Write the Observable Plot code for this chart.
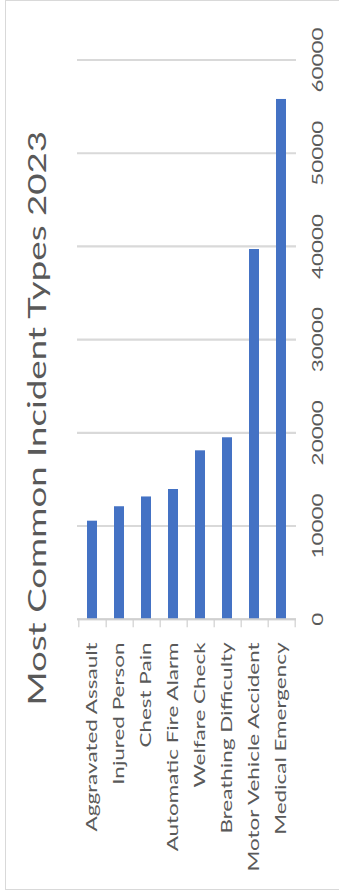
<!DOCTYPE html>
<html>
<head>
<meta charset="utf-8">
<script src="https://cdn.jsdelivr.net/npm/d3@7"></script>
<script src="https://cdn.jsdelivr.net/npm/@observablehq/plot@0.6"></script>
<style>
  html, body { margin: 0; padding: 0; background: #fff; }
  #wrap { position: relative; width: 339px; height: 896px; overflow: hidden; background: #fff; }
  #border { position: absolute; left: 5px; top: 0px; width: 340px; height: 890px; border: 1.5px solid #d9d9d9; box-sizing: border-box; }
  #chart { position: absolute; left: 0; top: 0; width: 618px; height: 339px; transform-origin: 0 0; }
  #chart svg { max-width: none !important; display: block; }
</style>
</head>
<body>
<div id="wrap"><div id="border"></div><div id="chart"></div></div>
<script>
const titleText = "Most Common Incident Types 2023";
const categories = [
  "Aggravated Assault",
  "Injured Person",
  "Chest Pain",
  "Automatic Fire Alarm",
  "Welfare Check",
  "Breathing Difficulty",
  "Motor Vehicle Accident",
  "Medical Emergency"
];
const counts = [10650, 12200, 13250, 14050, 18200, 19600, 39800, 55900];
const valueTicks = [0, 10000, 20000, 30000, 40000, 50000, 60000];

const data = categories.map((c, i) => ({type: c, count: counts[i]}));

// The chart is drawn as a horizontal bar chart, then turned to read bottom-to-top
const W = 618, H = 339, S = 896 / W;
const mTop = 77, mBottom = 43, mLeft = 190.4, mRight = 41.9;
const step = (H - mTop - mBottom) / categories.length;
const textColor = "#595959";
const axisColor = "#d0d0d0";

const chart = Plot.plot({
  width: W,
  height: H,
  marginLeft: mLeft,
  marginRight: mRight,
  marginTop: mTop,
  marginBottom: mBottom,
  style: {fontFamily: "Lato", color: textColor, background: "transparent", overflow: "visible", maxWidth: "none"},
  x: {domain: [0, 60000]},
  y: {domain: categories, paddingInner: 0.62, paddingOuter: 0.31},
  marks: [
    Plot.gridX(valueTicks, {stroke: "#d9d9d9", strokeOpacity: 1, strokeWidth: 1.5}),
    Plot.barX(data, {y: "type", x: "count", fill: "#4472C4"}),
    Plot.ruleX([0], {stroke: axisColor, strokeWidth: 1.5}),
    Plot.axisY({ticks: categories, tickSize: 5, text: null, label: null, dy: step / 2, stroke: axisColor, strokeWidth: 1.2}),
    Plot.axisY({ticks: [categories[0]], tickSize: 5, text: null, label: null, dy: -step / 2, stroke: axisColor, strokeWidth: 1.2}),
    Plot.axisY({tickSize: 0, tickPadding: 16, fontSize: 15.5, label: null, fill: textColor}),
    Plot.axisX({ticks: valueTicks, tickSize: 0, tickPadding: 15.7, tickFormat: d => String(d), fontSize: 15.5, label: null, fill: textColor}),
    Plot.text([titleText], {frameAnchor: "top-left", dx: 329 - mLeft, dy: -40, textAnchor: "middle", lineAnchor: "middle", fontSize: 25.3, fill: textColor})
  ]
});

const holder = document.getElementById("chart");
holder.appendChild(chart);
holder.style.transform = `matrix(0, ${-S}, 1, 0, 0, 896)`;
</script>
</body>
</html>
